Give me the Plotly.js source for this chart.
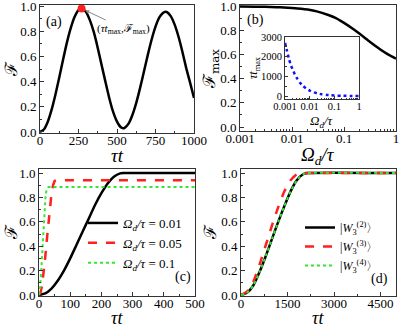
<!DOCTYPE html>
<html><head><meta charset="utf-8">
<script src="https://cdn.plot.ly/plotly-3.0.1.min.js"></script>
<style>html,body{margin:0;padding:0;background:#fff}</style>
</head><body><div id="chart" style="width:399px;height:329px"></div>
<script>
// ---- Panel (a): fidelity vs tau*t
const tA = [0,25,50,75,100,125,150,175,200,225,250,270,300,325,350,375,400,425,450,475,500,525,540,550,575,600,625,650,675,700,725,750,775,800,815,825,850,875,900,925,950,975,1000];
const fA = [0,0.02,0.08,0.175,0.296,0.433,0.575,0.711,0.826,0.914,0.967,0.98,0.951,0.884,0.79,0.667,0.532,0.398,0.268,0.159,0.082,0.037,0.03,0.033,0.066,0.135,0.231,0.35,0.48,0.612,0.734,0.836,0.909,0.947,0.955,0.952,0.918,0.85,0.754,0.635,0.505,0.39,0.27];
const peakT = [270];
const peakF = [0.98];
// ---- Panel (b): Fmax vs Omega_d/tau, inset tau*tmax
const omegaB = [0.001,0.002,0.003,0.005,0.007,0.01,0.015,0.02,0.03,0.05,0.07,0.1,0.15,0.2,0.3,0.5,0.7,1];
const fmaxB = [0.995,0.994,0.993,0.99,0.987,0.983,0.977,0.97,0.955,0.925,0.9,0.86,0.81,0.77,0.71,0.64,0.6,0.565];
const omegaIn = [0.001,0.0012,0.0014,0.0017,0.002,0.0025,0.003,0.004,0.005,0.007,0.01,0.015,0.02,0.03,0.05,0.07,0.1,0.2,0.3,0.5,0.7,1];
const tmaxIn = [2700,2300,1950,1600,1380,1100,920,690,550,395,280,185,140,93,56,40,28,14,9,6,4,3];
const logTickVals = [0.001,0.01,0.1,1];
const logTickText = ['0.001','0.01','0.1','1'];
const logMinorVals = [0.002,0.003,0.004,0.005,0.006,0.007,0.008,0.009,0.02,0.03,0.04,0.05,0.06,0.07,0.08,0.09,0.2,0.3,0.4,0.5,0.6,0.7,0.8,0.9];
// ---- Panel (c)
const tC1 = [0,20,40,60,80,100,120,140,160,180,200,220,240,260,270,500];
const fC1 = [0,0.013,0.053,0.117,0.2,0.3,0.41,0.52,0.63,0.74,0.835,0.915,0.97,0.997,1.0,1.0];
const tC2 = [0,5,10,15,20,25,30,35,40,45,50,55,500];
const fC2 = [0,0.02,0.08,0.18,0.31,0.45,0.59,0.72,0.83,0.9,0.935,0.94,0.94];
const tC3 = [0,3,6,9,12,15,18,21,24,27,30,500];
const fC3 = [0,0.04,0.15,0.3,0.46,0.6,0.72,0.81,0.86,0.88,0.885,0.885];
const namesC = ['<i>Ω<sub>d</sub>/τ</i> = 0.01','<i>Ω<sub>d</sub>/τ</i> = 0.05','<i>Ω<sub>d</sub>/τ</i> = 0.1'];
// ---- Panel (d)
const tD = [0,200,400,600,800,1000,1200,1400,1600,1800,2000,2150,5000];
const fD2 = [0,0.02,0.08,0.19,0.32,0.46,0.6,0.73,0.85,0.94,0.99,1,1];
const fD3 = [0,0.03,0.11,0.25,0.41,0.57,0.72,0.85,0.94,0.99,1,1,1];
const fD4 = [0,0.02,0.08,0.19,0.32,0.46,0.6,0.73,0.85,0.94,0.99,1,1];
const namesD = ['|<i>W</i><sub>3</sub><sup>(2)</sup>〉','|<i>W</i><sub>3</sub><sup>(3)</sup>〉','|<i>W</i><sub>3</sub><sup>(4)</sup>〉'];

const W = 399, H = 329;
const px = v => v / W, py = v => (H - v) / H;
const RED = '#ff1f1f', GREEN = '#33e833', BLUE = '#1010ff';
const SERIF = 'Liberation Serif, Times New Roman, serif';

const traces = [
  {x:tA, y:fA, xaxis:'x', yaxis:'y', mode:'lines', line:{color:'#000', width:2.5, shape:'spline', smoothing:0.6}, showlegend:false},
  {x:peakT, y:peakF, xaxis:'x', yaxis:'y', mode:'markers', marker:{color:RED, size:8}, showlegend:false},
  {x:omegaB, y:fmaxB, xaxis:'x2', yaxis:'y2', mode:'lines', line:{color:'#000', width:2.5, shape:'spline', smoothing:0.6}, showlegend:false},
  {x:omegaIn, y:tmaxIn, xaxis:'x5', yaxis:'y5', mode:'lines', line:{color:BLUE, width:2.5, dash:'dot', shape:'spline', smoothing:0.6}, showlegend:false},
  {x:tC1, y:fC1, xaxis:'x3', yaxis:'y3', mode:'lines', name:namesC[0], line:{color:'#000', width:2.5, shape:'spline', smoothing:0.5}, legend:'legend'},
  {x:tC2, y:fC2, xaxis:'x3', yaxis:'y3', mode:'lines', name:namesC[1], line:{color:RED, width:2.5, dash:'dash'}, legend:'legend'},
  {x:tC3, y:fC3, xaxis:'x3', yaxis:'y3', mode:'lines', name:namesC[2], line:{color:GREEN, width:2, dash:'dot'}, legend:'legend'},
  {x:tD, y:fD2, xaxis:'x4', yaxis:'y4', mode:'lines', name:namesD[0], line:{color:'#000', width:2.5, shape:'spline', smoothing:0.5}, legend:'legend2'},
  {x:tD, y:fD3, xaxis:'x4', yaxis:'y4', mode:'lines', name:namesD[1], line:{color:RED, width:2.5, dash:'dash', shape:'spline', smoothing:0.5}, legend:'legend2'},
  {x:tD, y:fD4, xaxis:'x4', yaxis:'y4', mode:'lines', name:namesD[2], line:{color:GREEN, width:2, dash:'dot', shape:'spline', smoothing:0.5}, legend:'legend2'}
];

function ax(extra){
  return Object.assign({showline:true, mirror:true, linecolor:'#333', linewidth:1, ticks:'inside', ticklen:4, tickcolor:'#333',
    showgrid:false, zeroline:false, showticklabels:true, ticklabeloverflow:'allow', automargin:false,
    tickfont:{family:SERIF, size:13, color:'#000'}, fixedrange:true}, extra);
}
const yF = () => ({tickformat:'.1f', dtick:0.2, minor:{dtick:0.1, ticks:'inside', ticklen:2, tickcolor:'#333'}});
const logMinor = (len) => ({tickmode:'array', tickvals:logMinorVals, ticks:'inside', ticklen:len, tickcolor:'#333'});

const titleFont = {family:SERIF, size:19, color:'#000'};
const ann = (x, y, text, extra) => Object.assign({xref:'paper', yref:'paper', x:x, y:y, text:text, showarrow:false, xanchor:'center', yanchor:'middle', font:titleFont}, extra||{});
const scriptF = () => ({family:'DejaVu Serif, Liberation Serif, serif', size:17, color:'#000'});

const layout = {
  width:W, height:H, margin:{l:0,r:0,t:0,b:0},
  paper_bgcolor:'#fff', plot_bgcolor:'#fff',
  font:{family:SERIF, size:13, color:'#000'},
  xaxis: ax({domain:[px(40),px(194)], range:[0,1000], anchor:'y', dtick:250, ticklabelstandoff:-5, minor:{dtick:125, ticks:'inside', ticklen:2, tickcolor:'#333'}}),
  yaxis: ax(Object.assign({domain:[py(133),py(5)], range:[-0.008,1.008], anchor:'x'}, yF())),
  xaxis2: ax({domain:[px(240),px(396)], type:'log', range:[-3,0], anchor:'y2', tickmode:'array', tickvals:logTickVals, ticktext:logTickText, ticklabelstandoff:-5, minor:logMinor(2)}),
  yaxis2: ax(Object.assign({domain:[py(131),py(5)], range:[-0.033,1.008], anchor:'x2'}, yF())),
  xaxis3: ax({domain:[px(39),px(195)], range:[0,500], anchor:'y3', dtick:100, ticklabelstandoff:-5, minor:{dtick:50, ticks:'inside', ticklen:2, tickcolor:'#333'}}),
  yaxis3: ax(Object.assign({domain:[py(296),py(169)], range:[-0.008,1.033], anchor:'x3'}, yF())),
  xaxis4: ax({domain:[px(241),px(396)], range:[0,5000], anchor:'y4', dtick:1500, ticklabelstandoff:-5, minor:{dtick:750, ticks:'inside', ticklen:2, tickcolor:'#333'}}),
  yaxis4: ax(Object.assign({domain:[py(296),py(169)], range:[-0.008,1.033], anchor:'x4'}, yF())),
  xaxis5: ax({domain:[px(285),px(359)], type:'log', range:[-3,0], anchor:'y5', tickmode:'array', tickvals:logTickVals, ticktext:logTickText, ticklen:3, ticklabelstandoff:-3,
    tickfont:{family:SERIF, size:10.5, color:'#000'}, minor:logMinor(1.5)}),
  yaxis5: ax({domain:[py(99),py(37)], range:[-150,3000], anchor:'x5', dtick:1000, ticklen:3,
    tickfont:{family:SERIF, size:10.5, color:'#000'}, minor:{dtick:500, ticks:'inside', ticklen:1.5, tickcolor:'#333'}}),
  legend: {x:px(83), y:py(208), xanchor:'left', yanchor:'top', bgcolor:'rgba(0,0,0,0)', borderwidth:0,
    font:{family:SERIF, size:13, color:'#000'}, tracegroupgap:0},
  legend2: {x:px(300), y:py(213), xanchor:'left', yanchor:'top', bgcolor:'rgba(0,0,0,0)', borderwidth:0,
    font:{family:SERIF, size:12, color:'#000'}, tracegroupgap:0},
  annotations: [
    ann(px(117), py(156), '<i>τt</i>'),
    ann(px(318), py(156), '<i>Ω<sub>d</sub>/τ</i>'),
    ann(px(117), py(318), '<i>τt</i>', {font:{family:SERIF, size:18, color:'#000'}}),
    ann(px(318), py(318), '<i>τt</i>', {font:{family:SERIF, size:18, color:'#000'}}),
    ann(px(11), py(69), 'ℱ', {textangle:-90, font:scriptF()}),
    ann(px(210), py(69), 'ℱ<sub>max</sub>', {textangle:-90, font:scriptF()}),
    ann(px(11), py(232), 'ℱ', {textangle:-90, font:scriptF()}),
    ann(px(210), py(232), 'ℱ', {textangle:-90, font:scriptF()}),
    ann(px(322), py(121), '<i>Ω<sub>d</sub>/τ</i>', {font:{family:SERIF, size:13, color:'#000'}}),
    ann(px(254), py(68), '<i>τt</i><sub>max</sub>', {textangle:-90, font:{family:SERIF, size:12, color:'#000'}}),
    ann(px(54), py(22), '(a)', {font:{family:SERIF, size:14, color:'#000'}}),
    ann(px(255), py(20), '(b)', {font:{family:SERIF, size:14, color:'#000'}}),
    ann(px(183), py(277), '(c)', {font:{family:SERIF, size:14, color:'#000'}}),
    ann(px(379), py(279), '(d)', {font:{family:SERIF, size:14, color:'#000'}}),
    {xref:'x', yref:'y', x:peakT[0], y:peakF[0], ax:42, ay:20, text:'(<i>τt</i><sub>max</sub>,ℱ<sub>max</sub>)', showarrow:true,
     arrowcolor:'#888', arrowwidth:1, arrowhead:2, arrowsize:0.8, standoff:4,
     font:{family:SERIF, size:11, color:'#000'}}
  ]
};
Plotly.newPlot('chart', traces, layout, {staticPlot:true, displayModeBar:false});
</script></body></html>
